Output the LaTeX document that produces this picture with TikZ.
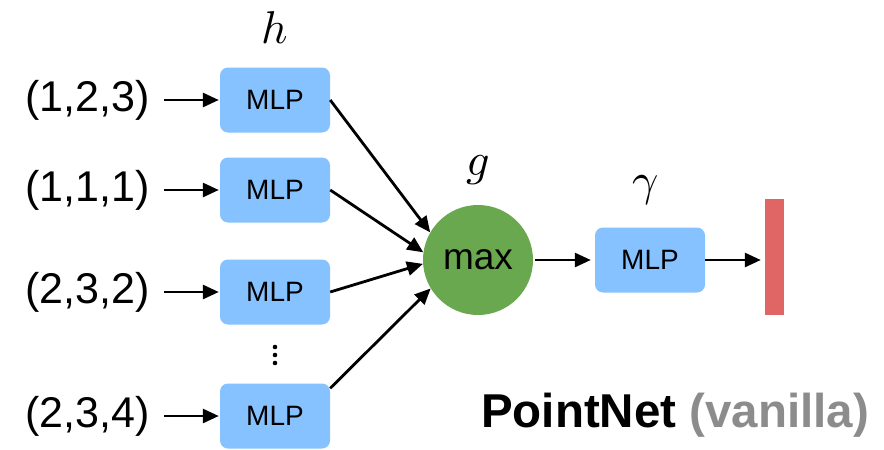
\documentclass[tikz,border=0pt]{standalone}
\usepackage{fontspec}
\usepackage{unicode-math}
\setmainfont{Liberation Sans}
\usetikzlibrary{arrows.meta}
\definecolor{mlpblue}{RGB}{134,194,255}
\definecolor{maxgreen}{RGB}{106,168,79}
\definecolor{barred}{RGB}{224,102,102}
\definecolor{vgray}{RGB}{140,140,140}
\tikzset{
  mlpbox/.style={draw=none, fill=mlpblue, rounded corners=8pt, minimum width=110pt, minimum height=65pt, inner sep=0pt, font=\fontsize{28}{28}\selectfont},
  inlabel/.style={anchor=east, inner xsep=14pt, inner ysep=0pt, font=\fontsize{43}{43}\selectfont},
  conn/.style={line width=2.8pt, -{Triangle[length=16pt,width=14pt]}},
  mathlab/.style={inner sep=0pt, font=\fontsize{46}{46}\selectfont},
}
\begin{document}
\begin{tikzpicture}[x=1pt, y=-1pt]
\useasboundingbox (0,0) rectangle (884,450);
% MLP boxes
\node[mlpbox] (m1) at (275,100) {MLP};
\node[mlpbox] (m2) at (275,190) {MLP};
\node[mlpbox] (m3) at (275,292) {MLP};
\node[mlpbox] (m4) at (275,416) {MLP};
% inputs
\node[inlabel] (i1) at (164,100) {(1,2,3)};
\node[inlabel] (i2) at (164,190) {(1,1,1)};
\node[inlabel] (i3) at (164,292) {(2,3,2)};
\node[inlabel] (i4) at (164,416) {(2,3,4)};
\foreach \k in {1,2,3,4} \draw[conn] (i\k.east) -- ([xshift=-1pt]m\k.west);
% dots
\foreach \yy in {347,355,363} \fill (275,\yy) circle (2.3pt);
% max
\node[circle, fill=maxgreen, minimum size=110pt, inner sep=0pt, font=\fontsize{37}{37}\selectfont] (mx) at (478,260) {max};
\draw[conn] (m1.east) -- (mx.150);
\draw[conn] (m2.east) -- (mx.172);
\draw[conn] (m3.east) -- (mx.184);
\draw[conn] ([yshift=-5pt]m4.north east) -- (mx.211);
% gamma MLP
\node[mlpbox] (m5) at (650,260) {MLP};
\draw[conn] ([xshift=2pt]mx.east) -- ([xshift=-4pt]m5.west);
% red bar
\node[fill=barred, minimum width=19pt, minimum height=116pt, inner sep=0pt] (bar) at (774.5,257) {};
\draw[conn] (m5.east) -- ([xshift=-4pt]m5.east -| bar.west);
% math labels
\node[mathlab] (h) at (275,28) {$h$};
\node[mathlab] (g) at (478,170) {$g$};
\node[mathlab] (gm) at (646,190) {$\gamma$};
% title
\node[anchor=west, inner sep=0pt, font=\bfseries\fontsize{47.5}{47.5}\selectfont] (title) at (481,415) {PointNet \textcolor{vgray}{(vanilla)}};
\end{tikzpicture}
\end{document}
